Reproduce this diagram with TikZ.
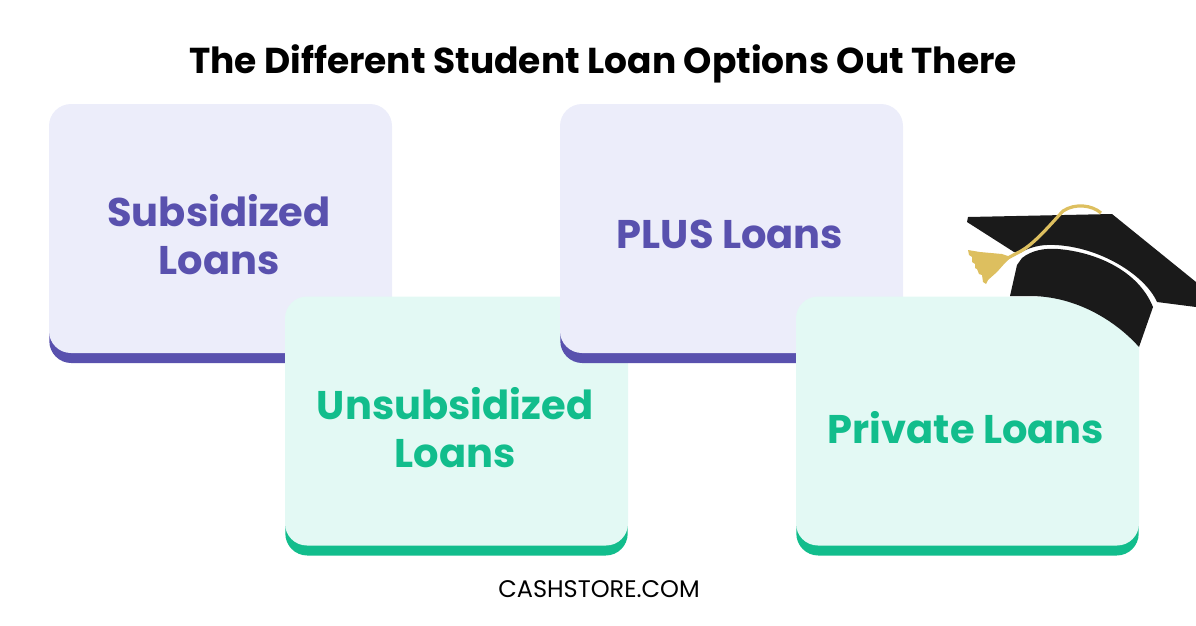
\documentclass[tikz,border=0pt]{standalone}
\usepackage{fontspec}
\setmainfont{Poppins}
\definecolor{lavender}{HTML}{ECEDFA}
\definecolor{purpleband}{HTML}{5951AE}
\definecolor{mint}{HTML}{E3F9F4}
\definecolor{greenband}{HTML}{12BD8C}
\definecolor{capblack}{HTML}{1A1A1A}
\definecolor{tasselgold}{HTML}{DDBF5F}
\tikzset{
  cardbox/.style={rectangle, rounded corners=22pt, inner sep=0pt, minimum width=343pt, minimum height=249pt},
  cardtext/.style={align=center, font=\bfseries\fontsize{40}{48}\selectfont}
}
\begin{document}
\begin{tikzpicture}[x=1pt,y=-1pt]
    \useasboundingbox (0,0) rectangle (1196,625);
    \node[font=\bfseries\fontsize{36}{42}\selectfont, text=black] (title) at (603,63.5) {The Different Student Loan Options Out There};

    \foreach \n\x\y\band\face\lbl\ty in {sub/220.5/228.5/purpleband/lavender/{Subsidized\\Loans}/235,
      unsub/456.5/421/greenband/mint/{Unsubsidized\\Loans}/428,
      plus/731.5/228.5/purpleband/lavender/{PLUS Loans}/234,
      priv/967.5/421/greenband/mint/{Private Loans}/428}{
      \node[cardbox, fill=\band, minimum width=342.4pt] (\n band) at (\x,\y+10) {};
      \node[cardbox, fill=\face] (\n) at (\x,\y) {};
      \node[cardtext, text=\band] (\n text) at (\x-1.5,\ty) {\lbl};
    }

    % mortarboard
    \fill[capblack] (968,217) -- (1112,214) -- (1196,282) -- (1196,307) -- (1157,302)
      .. controls (1145,275) and (1100,247) .. (1055,245)
      .. controls (1040,244) and (1028,248) .. (1020,253) -- (1014,252) -- (967,222) -- cycle;
    \fill[capblack] (1022,258) .. controls (1032,250) and (1045,248) .. (1058,249)
      .. controls (1095,252) and (1138,270) .. (1153,307) -- (1139,347)
      .. controls (1115,320) and (1075,296) .. (1030,296) -- (1010,296) -- (1017,265) -- cycle;

    % tassel
    \draw[tasselgold, line width=3.2pt] (1101,213) .. controls (1092,205) and (1075,203) .. (1063,211)
      .. controls (1050,225) and (1035,243) .. (1021,251) -- (1006,259);
    \fill[tasselgold] (968,250) -- (980,252) -- (1002,254) -- (1011,257) -- (1005,263) -- (997,272) -- (988,280)
      -- (986,284) -- (983,282) -- (982,275) -- (979,274) -- (977,269) -- (975,268) -- (975,264) -- (972,262) -- (972,257) -- (969,255) -- cycle;

    \node[font=\fontsize{24}{28}\selectfont, text=black] (site) at (599,589) {CASHSTORE.COM};
\end{tikzpicture}
\end{document}
